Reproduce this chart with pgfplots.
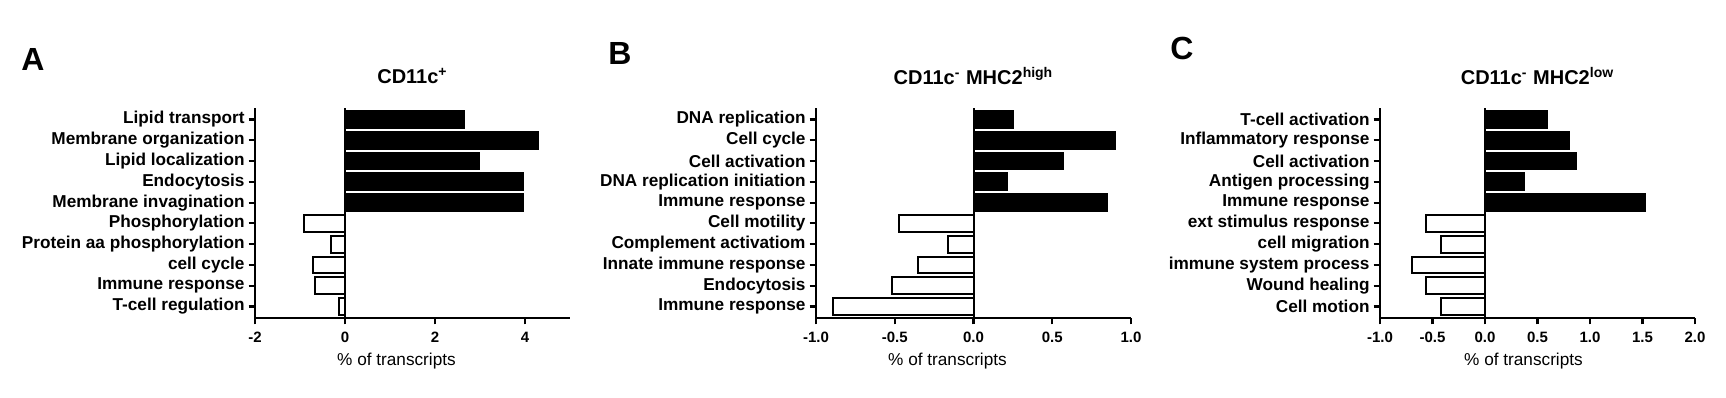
\documentclass[border=0pt]{standalone}
\usepackage{fontspec}
\setmainfont{Liberation Sans}
\usepackage{pgfplots}
\pgfplotsset{compat=1.18}

\pgfplotsset{
  panel/.style={
    scale only axis, width=157.5pt, height=105pt,
    anchor=south west,
    ymin=-0.55, ymax=9.55, ytick={0,...,9},
    axis lines=left, axis line style={line width=1.2pt,-},
    tick align=outside, major tick length=3.2pt,
    tick style={line width=1.1pt, black},
    xticklabel style={font=\bfseries\fontsize{7.5}{8}\selectfont, yshift=-0.5pt},
    yticklabel style={font=\bfseries\fontsize{8.6}{9}\selectfont, xshift=1.5pt},
    every axis title/.style={at={(axis description cs:0.5,1)}, anchor=center,
      yshift=16pt, font=\bfseries\fontsize{10}{12}\selectfont},
    xlabel={\% of transcripts},
    clip=false,
  },
  xlab/.style={every axis x label/.style={at={(axis description cs:0.5,0)}, anchor=center,
      yshift=-21.5pt, xshift=#1, font=\fontsize{8.6}{9}\selectfont}},
  posbar/.style={xbar, bar width=0.8, bar shift=0pt, fill=black, draw=black, line width=1pt},
  negbar/.style={xbar, bar width=0.8, bar shift=0pt, fill=white, draw=black, line width=1pt},
}

\begin{document}
\begin{tikzpicture}
\useasboundingbox (0,0) rectangle (863pt,198.5pt);

\node[font=\bfseries\fontsize{16}{18}\selectfont] at (16.5pt,169pt) {A};
\node[font=\bfseries\fontsize{16}{18}\selectfont] at (310pt,172pt) {B};
\node[font=\bfseries\fontsize{16}{18}\selectfont] at (591pt,174.5pt) {C};

% panel A
\begin{axis}[panel, xlab=-8pt, at={(127.5pt,39.5pt)},
  title={CD11c\textsuperscript{+}},
  xmin=-2, xmax=5, xtick={-2,0,2,4}, xticklabels={-2,0,2,4},
  yticklabels={T-cell regulation, Immune response, cell cycle, Protein aa phosphorylation, Phosphorylation, Membrane invagination, Endocytosis, Lipid localization, Membrane organization, Lipid transport}]
\addplot[posbar] coordinates {(3.95,5) (3.95,6) (2.97,7) (4.28,8) (2.64,9)};
\addplot[negbar] coordinates {(-0.14,0) (-0.67,1) (-0.71,2) (-0.31,3) (-0.92,4)};
\draw[line width=1pt] (axis cs:0,-0.55) -- (axis cs:0,9.55);
\end{axis}

% panel B
\begin{axis}[panel, xlab=-13pt, at={(408pt,39.5pt)},
  title={CD11c\textsuperscript{-} MHC2\textsuperscript{high}},
  xmin=-1, xmax=1, xtick={-1,-0.5,0,0.5,1}, xticklabels={-1.0,-0.5,0.0,0.5,1.0},
  yticklabels={Immune response, Endocytosis, Innate immune response, Complement activatiom, Cell motility, Immune response, DNA replication initiation, Cell activation, Cell cycle, DNA replication}]
\addplot[posbar] coordinates {(0.85,5) (0.21,6) (0.57,7) (0.90,8) (0.25,9)};
\addplot[negbar] coordinates {(-0.89,0) (-0.52,1) (-0.35,2) (-0.16,3) (-0.47,4)};
\draw[line width=1pt] (axis cs:0,-0.55) -- (axis cs:0,9.55);
\end{axis}

% panel C
\begin{axis}[panel, xlab=-7pt, at={(690pt,39.5pt)},
  title={CD11c\textsuperscript{-} MHC2\textsuperscript{low}},
  xmin=-1, xmax=2, xtick={-1,-0.5,0,0.5,1,1.5,2}, xticklabels={-1.0,-0.5,0.0,0.5,1.0,1.5,2.0},
  yticklabels={Cell motion, Wound healing, immune system process, cell migration, ext stimulus response, Immune response, Antigen processing\ , Cell activation, Inflammatory response, T-cell activation}]
\addplot[posbar] coordinates {(1.52,5) (0.37,6) (0.87,7) (0.80,8) (0.59,9)};
\addplot[negbar] coordinates {(-0.42,0) (-0.56,1) (-0.70,2) (-0.42,3) (-0.56,4)};
\draw[line width=1pt] (axis cs:0,-0.55) -- (axis cs:0,9.55);
\end{axis}
\end{tikzpicture}
\end{document}
